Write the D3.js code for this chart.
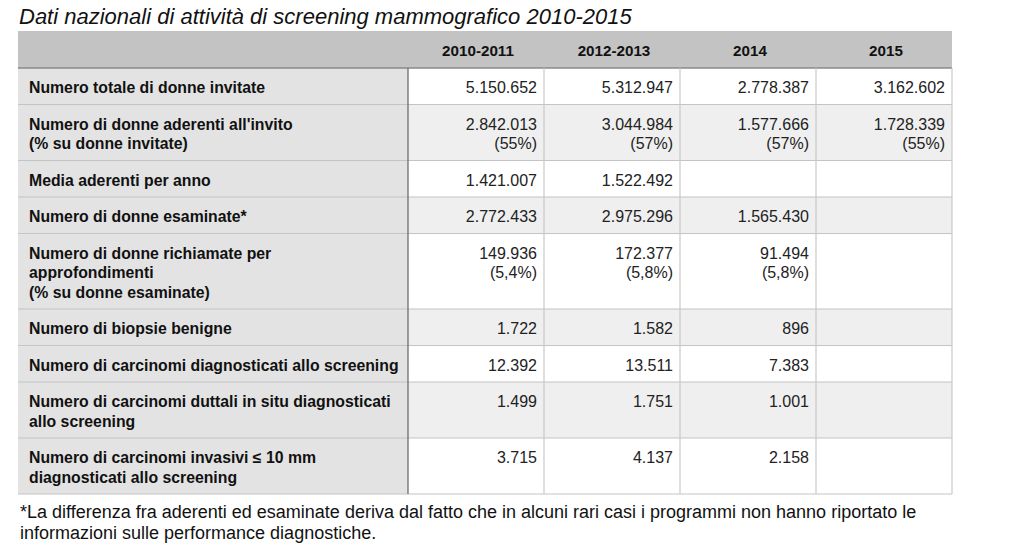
<!DOCTYPE html>
<html><head><meta charset="utf-8">
<script src="https://cdn.jsdelivr.net/npm/d3@7"></script>
<style>body{margin:0;background:#fff;}svg{display:block;font-family:"Liberation Sans",Arial,sans-serif;}</style>
</head><body>
<svg id="c" width="1024" height="553"></svg>
<script>
const title = "Dati nazionali di attività di screening mammografico 2010-2015";
const columns = ["2010-2011", "2012-2013", "2014", "2015"];
const rowLabels = [
  ["Numero totale di donne invitate"],
  ["Numero di donne aderenti all'invito", "(% su donne invitate)"],
  ["Media aderenti per anno"],
  ["Numero di donne esaminate*"],
  ["Numero di donne richiamate per", "approfondimenti", "(% su donne esaminate)"],
  ["Numero di biopsie benigne"],
  ["Numero di carcinomi diagnosticati allo screening"],
  ["Numero di carcinomi duttali in situ diagnosticati", "allo screening"],
  ["Numero di carcinomi invasivi \u2264 10 mm", "diagnosticati allo screening"]
];
const values2010_2011 = [["5.150.652"], ["2.842.013", "(55%)"], ["1.421.007"], ["2.772.433"], ["149.936", "(5,4%)"], ["1.722"], ["12.392"], ["1.499"], ["3.715"]];
const values2012_2013 = [["5.312.947"], ["3.044.984", "(57%)"], ["1.522.492"], ["2.975.296"], ["172.377", "(5,8%)"], ["1.582"], ["13.511"], ["1.751"], ["4.137"]];
const values2014 = [["2.778.387"], ["1.577.666", "(57%)"], [], ["1.565.430"], ["91.494", "(5,8%)"], ["896"], ["7.383"], ["1.001"], ["2.158"]];
const values2015 = [["3.162.602"], ["1.728.339", "(55%)"], [], [], [], [], [], [], []];
const footnote = [
  "*La differenza fra aderenti ed esaminate deriva dal fatto che in alcuni rari casi i programmi non hanno riportato le",
  "informazioni sulle performance diagnostiche."
];

const seriesValues = [values2010_2011, values2012_2013, values2014, values2015];

const svg = d3.select("#c");
const left = 18, labelRight = 408, right = 952;
const headTop = 31, headBottom = 68;
const lineH = 19.5, padBase = 17;

const x = d3.scaleBand().domain(columns).range([labelRight, right]);

let yAcc = headBottom;
const rows = rowLabels.map((lab, i) => {
  const h = padBase + lineH * lab.length;
  const r = {i, top: yAcc, h, lab};
  yAcc += h;
  return r;
});
const tableBottom = yAcc;

// title
svg.append("text").attr("x", 19).attr("y", 24)
  .attr("font-size", 22).attr("font-style", "italic").attr("fill", "#111")
  .text(title);

// header
svg.append("rect").attr("x", left).attr("y", headTop).attr("width", right - left).attr("height", headBottom - headTop).attr("fill", "#c3c3c3");
svg.selectAll("text.head").data(columns).join("text").attr("class", "head")
  .attr("x", d => x(d) + x.bandwidth() / 2 + 2).attr("y", headTop + 24.5)
  .attr("text-anchor", "middle").attr("font-weight", "bold").attr("font-size", 15.2).attr("fill", "#111")
  .text(d => d);

// label column background
svg.append("rect").attr("x", left).attr("y", headBottom).attr("width", labelRight - left).attr("height", tableBottom - headBottom).attr("fill", "#e3e3e3");

// data cell backgrounds
rows.forEach(r => {
  svg.append("rect").attr("x", labelRight).attr("y", r.top).attr("width", right - labelRight).attr("height", r.h)
    .attr("fill", r.i % 2 === 0 ? "#ffffff" : "#efefef");
});

// horizontal lines
rows.forEach(r => {
  svg.append("line").attr("x1", left).attr("x2", right).attr("y1", r.top + r.h).attr("y2", r.top + r.h)
    .attr("stroke", "#c4c4c4").attr("stroke-width", 1.2);
});
svg.append("line").attr("x1", left).attr("x2", right).attr("y1", headBottom).attr("y2", headBottom)
  .attr("stroke", "#8a8a8a").attr("stroke-width", 1.5);

// vertical lines
columns.forEach((c, j) => {
  if (j > 0) svg.append("line").attr("x1", x(c)).attr("x2", x(c)).attr("y1", headBottom).attr("y2", tableBottom)
    .attr("stroke", "#c8c8c8").attr("stroke-width", 1.2);
});
svg.append("line").attr("x1", right).attr("x2", right).attr("y1", headBottom).attr("y2", tableBottom)
  .attr("stroke", "#c8c8c8").attr("stroke-width", 1.2);
svg.append("line").attr("x1", labelRight).attr("x2", labelRight).attr("y1", headBottom).attr("y2", tableBottom)
  .attr("stroke", "#6e6e6e").attr("stroke-width", 1.3);

// row labels
rows.forEach(r => {
  r.lab.forEach((t, k) => {
    svg.append("text").attr("x", 29).attr("y", r.top + 25 + k * lineH)
      .attr("font-size", 15.8).attr("font-weight", "bold").attr("fill", "#111").text(t);
  });
});

// values
columns.forEach((c, j) => {
  rows.forEach(r => {
    seriesValues[j][r.i].forEach((t, k) => {
      svg.append("text").attr("x", x(c) + x.bandwidth() - 7).attr("y", r.top + 25 + k * lineH)
        .attr("text-anchor", "end").attr("font-size", 16).attr("fill", "#222").text(t);
    });
  });
});

// footnote
footnote.forEach((t, k) => {
  svg.append("text").attr("x", 20).attr("y", 518 + k * 21)
    .attr("font-size", 18).attr("fill", "#111").text(t);
});
</script>
</body></html>
